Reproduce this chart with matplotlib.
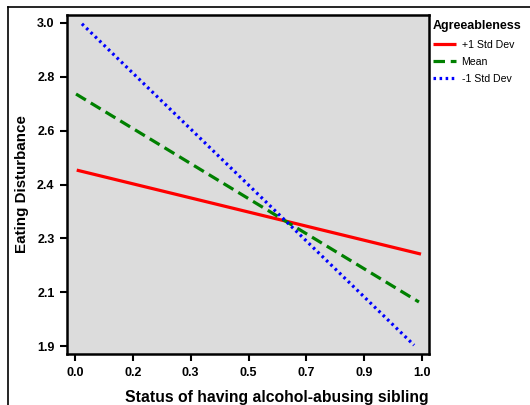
import numpy as np
import matplotlib
matplotlib.use('Agg')
import matplotlib.pyplot as plt
from matplotlib.lines import Line2D

plt.rcParams['font.family'] = ['Liberation Sans', 'DejaVu Sans']

# data
sib_plus = [0.005, 0.997]
plus_sd = [2.499, 2.213]
sib_mean = [0.003, 0.991]
mean_sd = [2.758, 2.050]
sib_minus = [0.020, 0.977]
minus_sd = [2.997, 1.903]

x_tick_labels = ['0.0', '0.2', '0.3', '0.5', '0.7', '0.9', '1.0']
y_tick_labels = ['1.9', '2.1', '2.3', '2.4', '2.6', '2.8', '3.0']
legend_labels = ['+1 Std Dev', 'Mean', '-1 Std Dev']

fig = plt.figure(figsize=(5.3, 4.05), dpi=100)
ax = fig.add_axes([67 / 530, 1 - 354 / 405, 362 / 530, 339 / 405])
ax.set_facecolor('#dcdcdc')

l1, = ax.plot(sib_plus, plus_sd, color='#ff0000', lw=2.3, solid_capstyle='butt')
l2, = ax.plot(sib_mean, mean_sd, color='#008000', lw=2.3, ls=(0, (3.6, 1.8)))
l3, = ax.plot(sib_minus, minus_sd, color='#0000ff', lw=2.3, ls=(0, (0.8, 1.1)))

ax.set_xlim(-0.023, 1.02)
ax.set_ylim(1.873, 3.027)
ax.set_xticks(np.linspace(0, 1, len(x_tick_labels)))
ax.set_xticklabels(x_tick_labels)
ax.set_yticks(np.linspace(1.9, 3.0, len(y_tick_labels)))
ax.set_yticklabels(y_tick_labels)
ax.tick_params(direction='out', length=5, width=1.5, labelsize=9, pad=4)
for lbl in ax.get_xticklabels() + ax.get_yticklabels():
    lbl.set_fontweight('bold')
for s in ax.spines.values():
    s.set_linewidth(1.8)

ax.set_xlabel('Status of having alcohol-abusing sibling', fontsize=11.3, fontweight='bold',
              loc='right', labelpad=8)
ax.set_ylabel('Eating Disturbance', fontsize=10.9, fontweight='bold', labelpad=6)

leg = fig.legend([l1, l2, l3], legend_labels, title='Agreeableness',
                 loc='upper left', bbox_to_anchor=(423 / 530, 1 - 11 / 405),
                 frameon=False, fontsize=7.6, title_fontsize=9, handlelength=2.2,
                 handletextpad=0.55, labelspacing=0.68, alignment='left')
leg.get_title().set_fontweight('bold')

# partial frame around the figure
fig.add_artist(Line2D([8 / 530, 1], [1 - 7 / 405, 1 - 7 / 405], color='black', lw=1.2))
fig.add_artist(Line2D([8 / 530, 8 / 530], [0, 1 - 7 / 405], color='black', lw=1.2))

fig.savefig('out.png', dpi=100)
